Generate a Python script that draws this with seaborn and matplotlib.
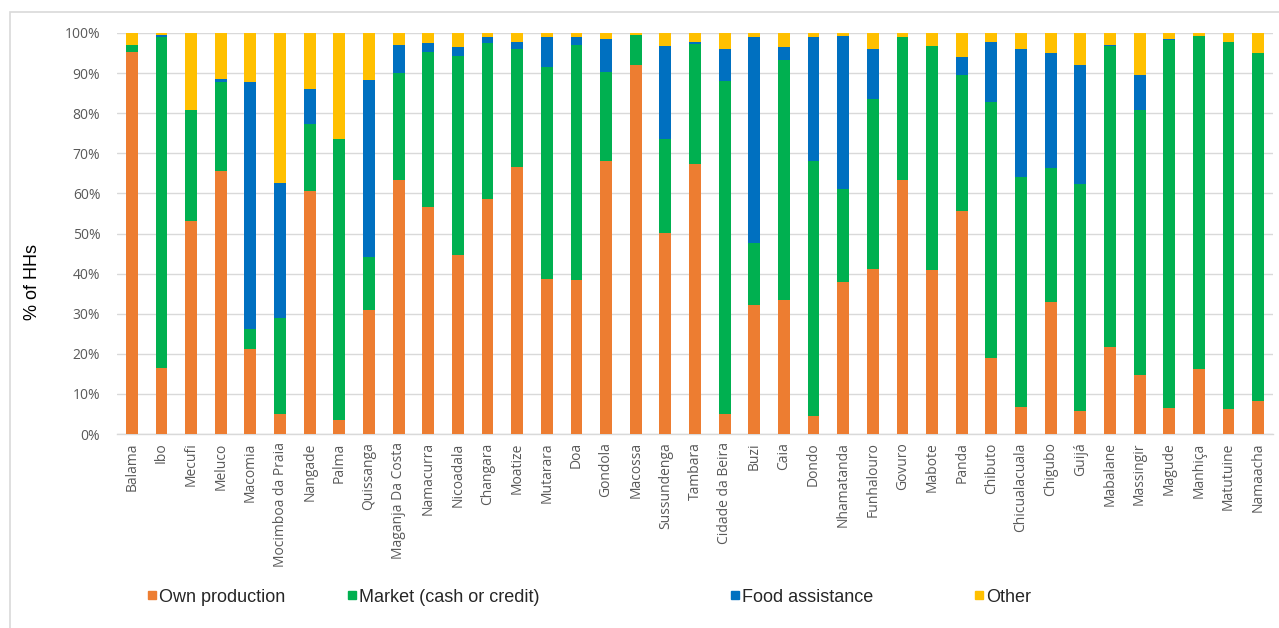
import matplotlib
matplotlib.use("Agg")
import matplotlib.pyplot as plt
from matplotlib.lines import Line2D
from matplotlib.patches import Rectangle
from matplotlib.ticker import PercentFormatter, MultipleLocator
import seaborn as sns
import pandas as pd
import numpy as np

# Main food source by district (% of households)
districts = [
    "Balama", "Ibo", "Mecufi", "Meluco", "Macomia", "Mocimboa da Praia", "Nangade",
    "Palma", "Quissanga", "Maganja Da Costa", "Namacurra", "Nicoadala", "Changara",
    "Moatize", "Mutarara", "Doa", "Gondola", "Macossa", "Sussundenga", "Tambara",
    "Cidade da Beira", "Buzi", "Caia", "Dondo", "Nhamatanda", "Funhalouro", "Govuro",
    "Mabote", "Panda", "Chibuto", "Chicualacuala", "Chigubo", "Guijá", "Mabalane",
    "Massingir", "Magude", "Manhiça", "Matutuine", "Namaacha",
]
own_production = [
    95.2, 16.5, 53.1, 65.6, 21.1, 5.0, 60.6, 3.6, 30.8, 63.4, 56.6, 44.7, 58.7,
    66.7, 38.7, 38.3, 68.1, 92.1, 50.2, 67.3, 5.0, 32.2, 33.3, 4.6, 37.9, 41.2,
    63.4, 40.8, 55.6, 19.0, 6.8, 32.9, 5.8, 21.8, 14.7, 6.5, 16.1, 6.2, 8.3,
]
market = [
    1.9, 82.5, 27.6, 22.3, 5.0, 24.0, 16.8, 69.9, 13.3, 26.6, 38.7, 49.5, 38.7,
    29.4, 52.7, 58.8, 22.2, 7.5, 23.3, 29.9, 83.1, 15.5, 59.9, 63.5, 23.3, 42.3,
    35.6, 55.9, 34.0, 63.7, 57.4, 33.4, 56.6, 74.9, 66.0, 91.7, 83.2, 91.6, 86.7,
]
food_assistance = [
    0.0, 0.6, 0.0, 0.6, 61.6, 33.7, 8.6, 0.0, 44.1, 7.1, 2.2, 2.2, 1.6,
    1.7, 7.6, 1.9, 8.3, 0.0, 23.2, 0.6, 7.9, 51.2, 3.2, 30.8, 38.1, 12.5,
    0.0, 0.0, 4.3, 15.1, 31.8, 28.7, 29.7, 0.2, 8.9, 0.4, 0.0, 0.0, 0.0,
]
other = [
    2.9, 0.4, 19.3, 11.5, 12.3, 37.3, 14.0, 26.5, 11.8, 2.9, 2.5, 3.6, 1.0,
    2.2, 1.0, 1.0, 1.4, 0.4, 3.3, 2.2, 4.0, 1.1, 3.6, 1.1, 0.7, 4.0,
    1.0, 3.3, 6.1, 2.2, 4.0, 5.0, 7.9, 3.1, 10.4, 1.4, 0.7, 2.2, 5.0,
]

series_names = ["Own production", "Market (cash or credit)", "Food assistance", "Other"]
series_colors = ["#ED7D31", "#00B050", "#0070C0", "#FFC000"]

df = pd.DataFrame({
    "district": districts,
    "Own production": own_production,
    "Market (cash or credit)": market,
    "Food assistance": food_assistance,
    "Other": other,
})
cum = df[series_names].cumsum(axis=1)

sns.set_style("white")
plt.rcParams["font.family"] = ["Open Sans", "DejaVu Sans"]

fig = plt.figure(figsize=(12.79, 6.28), dpi=100)
ax = fig.add_axes([117 / 1279, 1 - 434 / 628, 1156 / 1279, 401 / 628])

# Stacked bars: draw cumulative totals from the top segment down
for name, color in reversed(list(zip(series_names, series_colors))):
    sns.barplot(data=cum.assign(district=df["district"]), x="district", y=name,
                color=color, width=0.4, ax=ax, linewidth=0, saturation=1,
                errorbar=None, zorder=3)

ax.set_ylim(0, 100)
ax.set_xlim(-0.5, len(districts) - 0.5)
ax.yaxis.set_major_locator(MultipleLocator(10))
ax.yaxis.set_major_formatter(PercentFormatter(100, decimals=0))
ax.grid(axis="y", color="#d9d9d9", linewidth=1, zorder=0)
ax.set_axisbelow(True)
for s in ["top", "right", "left"]:
    ax.spines[s].set_visible(False)
ax.spines["bottom"].set_color("#d9d9d9")
ax.spines["bottom"].set_linewidth(1)
ax.tick_params(axis="both", length=0, colors="#595959", labelsize=10)
ax.tick_params(axis="y", pad=12)
ax.tick_params(axis="x", pad=6)
plt.setp(ax.get_xticklabels(), rotation=90)

ax.set_xlabel("")
ax.set_ylabel("% of HHs", fontsize=13, color="black", family=["Liberation Sans", "DejaVu Sans"])
ax.yaxis.set_label_coords(-0.066, 0.38)

# Legend entries spread along the bottom
legend_x = [147, 347, 730, 974]
for name, color, x in zip(series_names, series_colors, legend_x):
    h = Line2D([], [], marker="s", linestyle="", color=color, markersize=5.5)
    fig.legend(handles=[h], labels=[name], loc="center left",
               bbox_to_anchor=(x / 1279, 1 - 597 / 628), frameon=False,
               handlelength=0.5, handletextpad=0.15, borderpad=0, borderaxespad=0,
               prop={"family": ["Liberation Sans", "DejaVu Sans"], "size": 13})

# Chart frame
fig.patches.append(Rectangle((10 / 1279, -0.1), 1.2, 1 - 12 / 628 + 0.1,
                             transform=fig.transFigure, fill=False,
                             edgecolor="#d9d9d9", linewidth=1.2, zorder=-1))

fig.savefig("out.png", dpi=100)
